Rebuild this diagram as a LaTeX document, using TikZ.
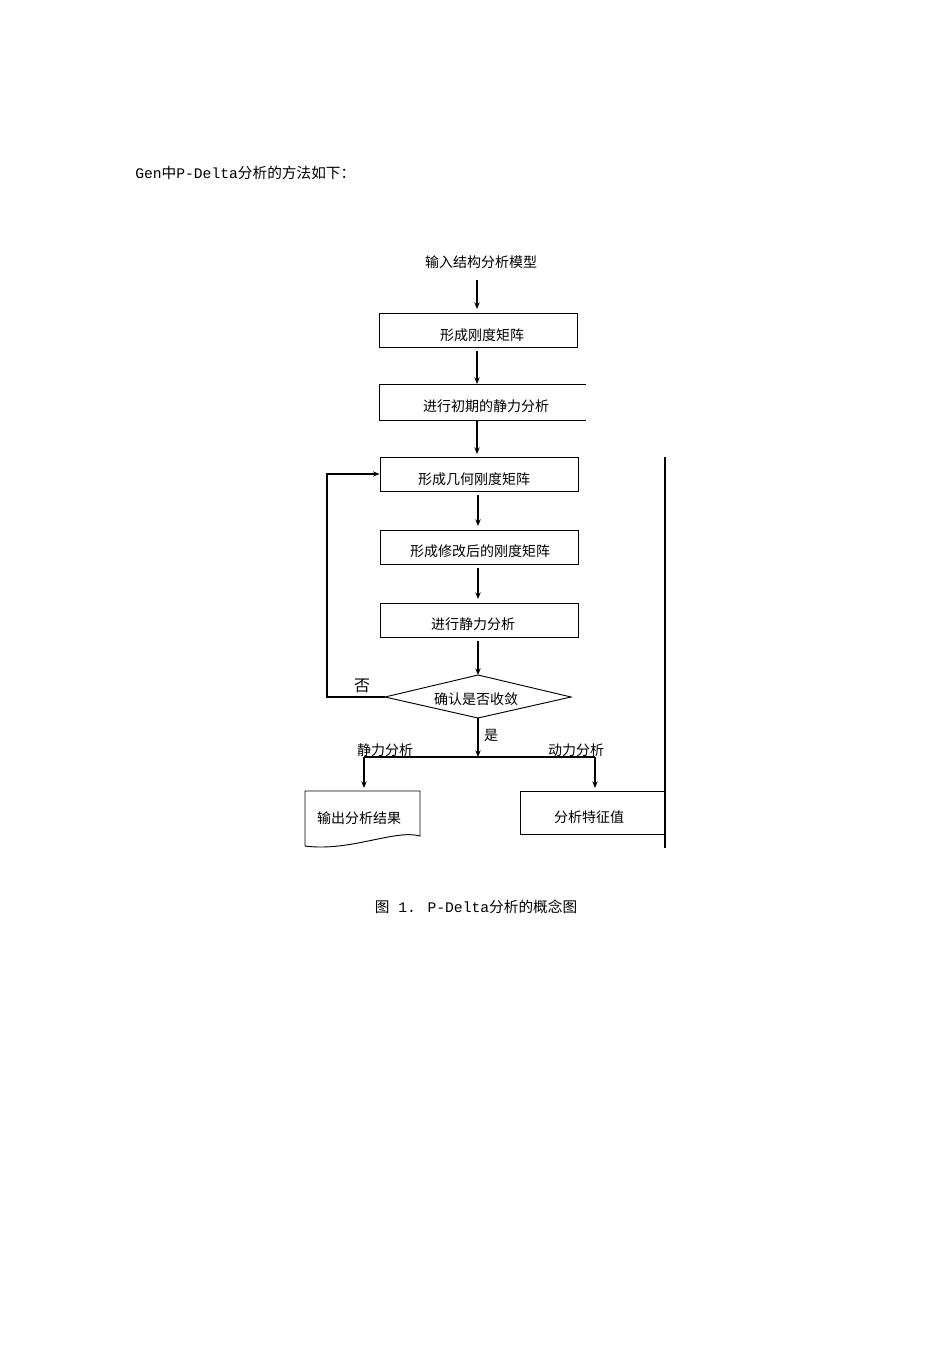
\documentclass[tikz,border=0pt]{standalone}
\usepackage{fontspec}
\setmainfont{Liberation Mono}
\newfontfamily\cjk{Noto Sans CJK SC}
\usetikzlibrary{arrows.meta}
\begin{document}
\begin{tikzpicture}[x=0.75pt,y=-0.75pt,
  txt/.style={inner sep=0pt,font=\fontsize{10.5}{12}\selectfont\cjk},
  flowbox/.style={draw,line width=0.7pt,minimum width=198*0.75pt,minimum height=34*0.75pt,inner sep=0pt,font=\fontsize{10.5}{12}\selectfont\cjk},
  conn/.style={line width=0.8pt},
  arr/.style={conn,-{Stealth[length=5pt,width=4pt]}}]
\useasboundingbox (0,0) rectangle (950,1345);
\fill[white] (0,0) rectangle (950,1345);

\node[inner sep=0pt,anchor=west,font=\fontsize{11}{13}\selectfont] (intro) at (135,173) {Gen{\cjk 中}P-Delta{\cjk 分析的方法如下：}};

\node[txt] (input) at (481,262) {输入结构分析模型};

\node[flowbox] (b1) at (478.5,330) {};
\node[txt] (t1) at (482,335) {形成刚度矩阵};

% box 2 open on the right
\coordinate (b2nw) at (379,384);
\coordinate (b2ne) at (586,384);
\coordinate (b2sw) at (379,420);
\coordinate (b2se) at (586,420);
\draw[line width=0.7pt] (b2ne) -- (b2nw) -- (b2sw) -- (b2se);
\coordinate (b2n) at (477,384);
\coordinate (b2s) at (477,420);
\node[txt] (t2) at (486,406) {进行初期的静力分析};

\node[flowbox] (b3) at (479,474) {};
\node[txt] (t3) at (474,479) {形成几何刚度矩阵};
\node[flowbox] (b4) at (479,547) {};
\node[txt] (t4) at (480,551) {形成修改后的刚度矩阵};
\node[flowbox] (b5) at (479,620) {};
\node[txt] (t5) at (473,624) {进行静力分析};

% diamond
\coordinate (dl) at (385,697);
\coordinate (dr) at (571,697);
\coordinate (dt) at (478,675);
\coordinate (db) at (478,718);
\draw[line width=0.7pt] (dl) -- (dt) -- (dr) -- (db) -- cycle;
\node[txt] (t6) at (476,699) {确认是否收敛};

% arrows
\draw[arr] (477,280) -- (477,309);
\draw[arr] (477,351) -- (b2n);
\draw[arr] (b2s) -- (477,454);
\draw[arr] (478,495) -- (478,526);
\draw[arr] (478,568) -- (478,599);
\draw[arr] (478,641) -- (dt);

% loop
\coordinate (lpa) at (327,697);
\coordinate (lpb) at (327,474);
\draw[arr] (dl) -- (lpa) -- (lpb) -- (b3.west);
\node[txt,font=\fontsize{12}{14}\selectfont\cjk] (no) at (362,686) {否};

% yes
\coordinate (split) at (478,757);
\coordinate (sl) at (364,757);
\coordinate (sr) at (595,757);
\draw[arr] (db) -- (split);
\draw[conn] (sl) -- (sr);
\node[txt] (yes) at (491,735) {是};
\node[txt] (lstat) at (385,750) {静力分析};
\node[txt] (ldyn) at (576,750) {动力分析};

% output document
\coordinate (docnw) at (305,791);
\coordinate (docne) at (420,791);
\draw[line width=0.7pt] (305,846) -- (docnw) -- (docne) -- (420,836)
  .. controls (395,829) and (350,852) .. (305,846);
\node[txt] (t7) at (359,818) {输出分析结果};
\draw[arr] (sl) -- (364,788);

\node[draw,line width=0.7pt,minimum width=145*0.75pt,minimum height=43*0.75pt,inner sep=0pt] (b8) at (592.5,812.5) {};
\node[txt] (t8) at (589,817) {分析特征值};
\draw[arr] (sr) -- (595,788);

% right vertical line
\coordinate (vt) at (665,457);
\coordinate (vb) at (665,848);
\draw[line width=0.8pt] (vt) -- (vb);

\node[inner sep=0pt,font=\fontsize{11}{13}\selectfont] (cap) at (476,907) {{\cjk 图} 1. P-Delta{\cjk 分析的概念图}};
\end{tikzpicture}
\end{document}
